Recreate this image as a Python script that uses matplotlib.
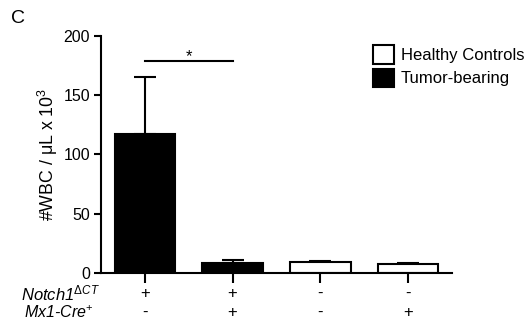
import matplotlib
matplotlib.use("Agg")
import matplotlib.pyplot as plt
from matplotlib.patches import Patch
from matplotlib.transforms import blended_transform_factory

plt.rcParams['font.family'] = ['Liberation Sans', 'DejaVu Sans']
plt.rcParams['mathtext.fontset'] = 'custom'
plt.rcParams['mathtext.rm'] = 'Liberation Sans'
plt.rcParams['mathtext.it'] = 'Liberation Sans:italic'
plt.rcParams['mathtext.default'] = 'it'

# data
groups = ['T1', 'T2', 'H1', 'H2']
values = [117, 8.2, 9, 7.9]
errors = [48, 2.5, 1, 0.4]
tumor = [True, True, False, False]
notch_row = ['+', '+', '-', '-']
cre_row = ['-', '+', '-', '+']
yticks = [0, 50, 100, 150, 200]

fig = plt.figure(figsize=(5.26, 3.28), dpi=100)
ax = fig.add_axes([0.192, 0.1677, 0.667, 0.7226])

x = list(range(len(groups)))
colors = ['black' if t else 'white' for t in tumor]
ax.bar(x, values, width=0.69, color=colors, edgecolor='black', linewidth=1.5, zorder=2)
ax.errorbar(x, values, yerr=[[0] * len(errors), errors], fmt='none', ecolor='black',
            elinewidth=1.5, capsize=8, capthick=1.5, zorder=1)

ax.set_xlim(-0.5, 3.5)
ax.set_ylim(0, 200)
ax.set_yticks(yticks)
ax.set_xticks(x)
ax.set_xticklabels([])
ax.tick_params(axis='y', labelsize=11.5, width=1.5, length=5, pad=3)
ax.tick_params(axis='x', width=1.5, length=7)
for s in ['top', 'right']:
    ax.spines[s].set_visible(False)
for s in ['left', 'bottom']:
    ax.spines[s].set_linewidth(1.5)
ax.set_ylabel('#WBC / μL x 10$^{\\mathrm{3}}$', fontsize=12.8)
ax.yaxis.set_label_coords(-0.117, 0.5)

# genotype rows under the axis
tr = blended_transform_factory(ax.transData, ax.transAxes)
for xi, a, b in zip(x, notch_row, cre_row):
    ax.text(xi, -0.088, a, transform=tr, ha='center', va='center', fontsize=12)
    ax.text(xi, -0.168, b, transform=tr, ha='center', va='center', fontsize=12)
ax.text(-0.003, -0.088, 'Notch1$^{\\Delta CT}$', transform=ax.transAxes, ha='right',
        va='center', fontsize=12, style='italic')
ax.text(-0.022, -0.168, 'Mx1-Cre$^{+}$', transform=ax.transAxes, ha='right',
        va='center', fontsize=11.5, style='italic')

# significance
ax.plot([0, 1], [179, 179], color='black', linewidth=1.5, clip_on=False)
ax.text(0.5, 183, '*', ha='center', va='center', fontsize=12)

handles = [Patch(facecolor='white', edgecolor='black', linewidth=1.5, label='Healthy Controls'),
           Patch(facecolor='black', edgecolor='black', linewidth=1.5, label='Tumor-bearing')]
fig.legend(handles=handles, loc='upper left', bbox_to_anchor=(0.696, 0.882), frameon=False,
           fontsize=12, handlelength=1.3, handleheight=1.3, handletextpad=0.4,
           labelspacing=0.3, borderaxespad=0)

fig.text(0.02, 0.945, 'C', fontsize=14, va='center', ha='left')

fig.savefig('out.png', dpi=100)
